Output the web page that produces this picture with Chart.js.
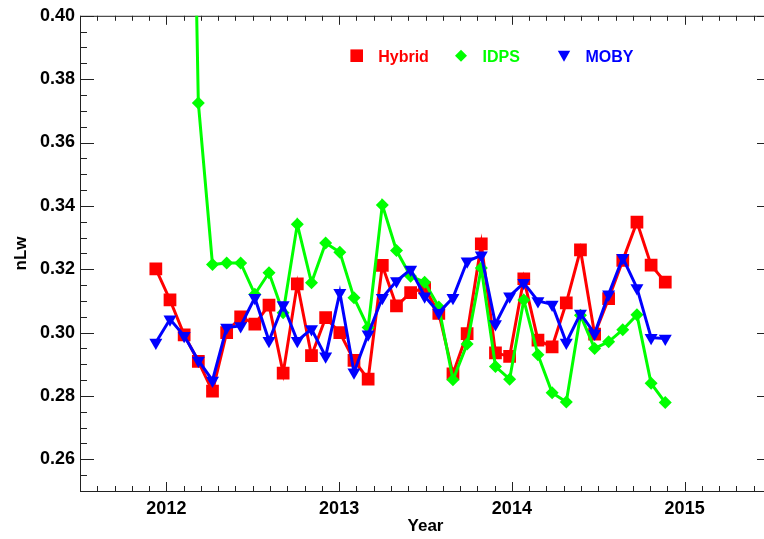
<!DOCTYPE html>
<html>
<head>
<meta charset="utf-8">
<title>nLw</title>
<script src="https://cdn.jsdelivr.net/npm/chart.js@4.4.1/dist/chart.umd.min.js"></script>
<style>
  html, body { margin: 0; padding: 0; background: #fff; overflow: hidden; }
  canvas { display: block; }
</style>
</head>
<body>
<canvas id="nlwChart" width="780" height="539"></canvas>
<script>
// Zeitpunkte (Dezimaljahre)
const years = [
    2011.939, 2012.021, 2012.103, 2012.185, 2012.267, 2012.349, 2012.430, 2012.512,
    2012.594, 2012.676, 2012.758, 2012.840, 2012.922, 2013.004, 2013.086, 2013.168,
    2013.250, 2013.332, 2013.414, 2013.495, 2013.577, 2013.659, 2013.741, 2013.823,
    2013.905, 2013.987, 2014.069, 2014.151, 2014.233, 2014.315, 2014.397, 2014.479,
    2014.560, 2014.642, 2014.724, 2014.806, 2014.888
];

const hybrid = [
    0.3201, 0.3103, 0.2993, 0.2909, 0.2815, 0.3000, 0.3050, 0.3027,
    0.3087, 0.2872, 0.3154, 0.2927, 0.3047, 0.3000, 0.2912, 0.2853,
    0.3212, 0.3084, 0.3126, 0.3141, 0.3061, 0.2870, 0.2997, 0.3280,
    0.2936, 0.2925, 0.3170, 0.2976, 0.2955, 0.3094, 0.3261, 0.2995,
    0.3107, 0.3228, 0.3349, 0.3213, 0.3159
];

const idps = [
    null, null, 0.6100, 0.3725, 0.3215, 0.3220, 0.3220, 0.3121,
    0.3189, 0.3063, 0.3342, 0.3157, 0.3283, 0.3254, 0.3110, 0.3016,
    0.3403, 0.3259, 0.3178, 0.3159, 0.3081, 0.2851, 0.2964, 0.3204,
    0.2893, 0.2853, 0.3103, 0.2930, 0.2810, 0.2781, 0.3055, 0.2950,
    0.2971, 0.3009, 0.3056, 0.2840, 0.2779
];

const moby = [
    0.2969, 0.3042, 0.2990, 0.2912, 0.2849, 0.3016, 0.3021, 0.3110,
    0.2974, 0.3087, 0.2974, 0.3011, 0.2925, 0.3126, 0.2875, 0.2995,
    0.3110, 0.3163, 0.3199, 0.3115, 0.3063, 0.3110, 0.3225, 0.3244,
    0.3027, 0.3115, 0.3157, 0.3100, 0.3089, 0.2969, 0.3060, 0.2997,
    0.3121, 0.3236, 0.3141, 0.2984, 0.2981
];

const xTicks = [2012, 2013, 2014, 2015];
const yTicks = [0.26, 0.28, 0.30, 0.32, 0.34, 0.36, 0.38, 0.40];

const FONT = "'Liberation Sans', Arial, Helvetica, sans-serif";

function toPoints(values) {
    return years.map((x, i) => ({ x: x, y: values[i] }));
}

// Achsenrahmen mit nach innen zeigenden Haupt- und Nebenstrichen
const axisBoxPlugin = {
    id: 'axisBox',
    beforeDatasetsDraw(chart) {
        const { ctx, chartArea: a, scales: { x, y } } = chart;
        ctx.save();
        ctx.strokeStyle = '#222';
        ctx.lineWidth = 1;
        ctx.strokeRect(a.left + 0.5, a.top + 0.5, a.right - a.left, a.bottom - a.top);
        ctx.beginPath();
        // x: Nebenstriche alle 0.1 Jahre
        for (let i = 0; i <= 40; i++) {
            const v = x.min + i * 0.1;
            const major = Math.abs(v - Math.round(v)) < 1e-6;
            const len = major ? 9 : 5;
            const px = Math.round(x.getPixelForValue(v)) + 0.5;
            ctx.moveTo(px, a.bottom); ctx.lineTo(px, a.bottom - len);
            ctx.moveTo(px, a.top); ctx.lineTo(px, a.top + len);
        }
        // y: Nebenstriche alle 0.005
        for (let i = 0; i <= 30; i++) {
            const v = y.min + i * 0.005;
            const major = i % 4 === 2;
            const len = major ? 14 : 7;
            const py = Math.round(y.getPixelForValue(v)) + 0.5;
            ctx.moveTo(a.left, py); ctx.lineTo(a.left + len, py);
            ctx.moveTo(a.right, py); ctx.lineTo(a.right - len, py);
        }
        ctx.stroke();
        ctx.restore();
    }
};

// Legende: Symbol + farbiger Text, oben im Diagramm
const markerLegendPlugin = {
    id: 'markerLegend',
    afterDraw(chart) {
        const { ctx } = chart;
        const slots = [356.7, 461, 564];
        ctx.save();
        ctx.font = 'bold 16px ' + FONT;
        ctx.textBaseline = 'alphabetic';
        ctx.textAlign = 'left';
        chart.data.datasets.forEach((ds, i) => {
            const cx = slots[i];
            const cy = 55.7;
            ctx.fillStyle = ds.backgroundColor;
            ctx.beginPath();
            if (ds.pointStyle === 'rect') {
                ctx.rect(cx - 6.3, cy - 6.3, 12.6, 12.6);
            } else if (ds.pointStyle === 'rectRot') {
                ctx.moveTo(cx, cy - 6); ctx.lineTo(cx + 6, cy);
                ctx.lineTo(cx, cy + 6); ctx.lineTo(cx - 6, cy);
            } else {
                ctx.moveTo(cx - 6.2, cy - 5); ctx.lineTo(cx + 6.2, cy - 5);
                ctx.lineTo(cx, cy + 6);
            }
            ctx.closePath();
            ctx.fill();
            ctx.fillText(ds.label, cx + 21.5, 61.5);
        });
        ctx.restore();
    }
};

const ctx = document.getElementById('nlwChart').getContext('2d');
new Chart(ctx, {
    type: 'line',
    data: {
        datasets: [
            {
                label: 'Hybrid',
                data: toPoints(hybrid),
                borderColor: '#ff0000',
                backgroundColor: '#ff0000',
                borderWidth: 3,
                pointStyle: 'rect',
                pointRadius: 9,
                pointBorderWidth: 0,
                order: 3
            },
            {
                label: 'IDPS',
                data: toPoints(idps),
                borderColor: '#00ff00',
                backgroundColor: '#00ff00',
                borderWidth: 3,
                pointStyle: 'rectRot',
                pointRadius: 6.5,
                pointBorderWidth: 0,
                order: 2
            },
            {
                label: 'MOBY',
                data: toPoints(moby),
                borderColor: '#0000ff',
                backgroundColor: '#0000ff',
                borderWidth: 3,
                pointStyle: 'triangle',
                pointRotation: 180,
                pointRadius: 7.5,
                pointBorderWidth: 0,
                order: 1
            }
        ]
    },
    options: {
        responsive: false,
        devicePixelRatio: 1,
        animation: false,
        events: [],
        layout: { padding: { top: 13, right: 8, left: 0, bottom: 0 } },
        plugins: {
            legend: { display: false },
            tooltip: { enabled: false }
        },
        scales: {
            x: {
                type: 'linear',
                min: 2011.5,
                max: 2015.5,
                afterBuildTicks: scale => { scale.ticks = xTicks.map(v => ({ value: v })); },
                afterFit: scale => { scale.height = 48; },
                grid: { display: false, drawTicks: false },
                border: { display: false },
                ticks: {
                    color: '#000',
                    font: { family: FONT, size: 18, weight: 'bold' },
                    padding: 7,
                    maxRotation: 0,
                    autoSkip: false,
                    callback: v => String(v)
                },
                title: {
                    display: true,
                    text: 'Year',
                    color: '#000',
                    font: { family: FONT, size: 17, weight: 'bold' },
                    padding: { top: 0, bottom: 2 }
                }
            },
            y: {
                type: 'linear',
                min: 0.25,
                max: 0.40,
                afterBuildTicks: scale => { scale.ticks = yTicks.map(v => ({ value: v })); },
                afterFit: scale => { scale.width = 80; },
                grid: { display: false, drawTicks: false },
                border: { display: false },
                ticks: {
                    color: '#000',
                    font: { family: FONT, size: 18, weight: 'bold' },
                    padding: 5,
                    callback: v => v.toFixed(2)
                },
                title: {
                    display: true,
                    text: 'nLw',
                    color: '#000',
                    font: { family: FONT, size: 17, weight: 'bold' },
                    padding: { top: 11, bottom: 0 }
                }
            }
        }
    },
    plugins: [axisBoxPlugin, markerLegendPlugin]
});
</script>
</body>
</html>
